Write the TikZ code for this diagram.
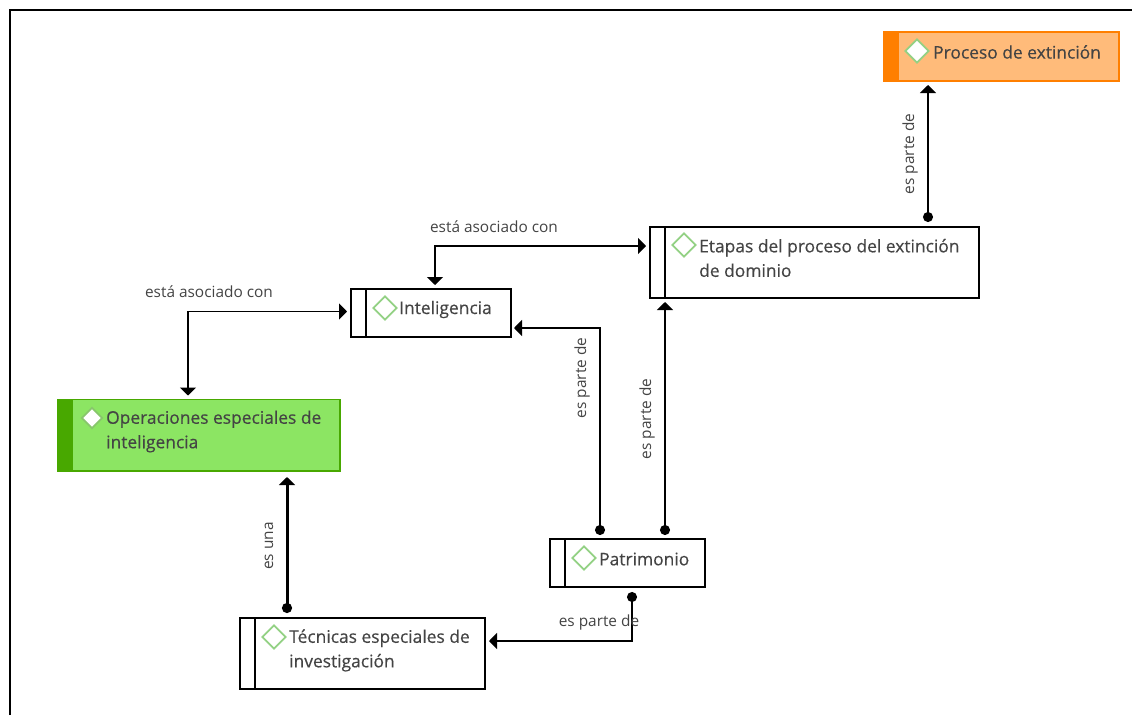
\documentclass[tikz,border=0pt]{standalone}
\usepackage{fontspec}
\setmainfont{Open Sans}
\newfontfamily\titlefont[FakeBold=0.35]{Open Sans}
\usetikzlibrary{arrows.meta,shapes.geometric}

\definecolor{textgray}{HTML}{444444}
\definecolor{markgreen}{HTML}{93D184}
\definecolor{orangeline}{HTML}{FF7F00}
\definecolor{orangefill}{HTML}{FFBB7A}
\definecolor{greenline}{HTML}{48A800}
\definecolor{greenfill}{HTML}{8CE563}

\tikzset{
 box/.style={draw=black,line width=1.5pt,fill=white,inner sep=0pt,outer sep=0pt,anchor=north west},
 gem/.style={diamond,aspect=1,draw=markgreen,line width=1.7pt,fill=white,inner sep=0pt,minimum size=24pt},
 title/.style={anchor=west,inner sep=0pt,text=textgray,font=\titlefont\fontsize{17.4}{24.5}\selectfont,align=left},
 relation/.style={inner sep=0pt,text=textgray,font=\fontsize{15.4}{18}\selectfont},
 link/.style={line width=1.7pt,{Circle[length=10pt]}-{Triangle[length=8pt,width=16pt]}},
 both/.style={line width=1.7pt,{Triangle[length=8pt,width=16pt]}-{Triangle[length=8pt,width=16pt]}}
}

\begin{document}
\begin{tikzpicture}[x=1pt,y=-1pt]

\useasboundingbox (0,0) rectangle (1132,715);

% frame
\draw[line width=2.2pt] (10,715)--(10,10)--(1132,10);

% boxes
\node [box,draw=orangeline,fill=orangefill,minimum width=235.5pt,minimum height=49pt] (proceso) at (883.5,32) {};
\node [box,draw=greenline,fill=greenfill,minimum width=282.5pt,minimum height=71.5pt] (operaciones) at (57.5,399.5) {};
\node [box,minimum width=329pt,minimum height=71pt] (etapas) at (650,227) {};
\node [box,minimum width=160pt,minimum height=48pt] (inteligencia) at (351,289) {};
\node [box,minimum width=155pt,minimum height=48pt] (patrimonio) at (550,539) {};
\node [box,minimum width=245pt,minimum height=71pt] (tecnicas) at (240,618) {};

% side bars
\fill [orangeline] (883,32) rectangle (899,81);
\fill [greenline] (57,399.5) rectangle (73,471);
\draw [line width=1.5pt] (665,227)--(665,298);
\draw [line width=1.5pt] (366,289)--(366,337);
\draw [line width=1.5pt] (565,539)--(565,587);
\draw [line width=1.5pt] (255,618)--(255,689);

% diamonds
\node [gem] (gem1) at (917,51) {};
\node [gem,minimum size=21pt,draw=greenfill!70!gray] (gem2) at (92,418) {};
\node [gem] (gem3) at (684,245) {};
\node [gem] (gem4) at (385,308) {};
\node [gem] (gem5) at (584,558) {};
\node [gem] (gem6) at (274,637) {};

% titles
\node [title] (t1) at (933,52) {Proceso de extinción};
\node [title] (t2) at (106,431.5) {Operaciones especiales de\\inteligencia};
\node [title] (t3) at (699,258) {Etapas del proceso del extinción\\de dominio};
\node [title] (t4) at (399,309.5) {Inteligencia};
\node [title] (t5) at (599,559) {Patrimonio};
\node [title] (t6) at (289,650.5) {Técnicas especiales de\\investigación};

% connectors
\draw [link,shorten <=5pt,shorten >=4pt] ([xshift=113.5pt]etapas.north)--([xshift=-73.25pt]proceso.south);
\draw [both,shorten <=4pt,shorten >=4pt] ([xshift=4pt]inteligencia.north) |- ([yshift=16.5pt]etapas.west);
\draw [both,shorten <=4pt,shorten >=4pt] ([xshift=-10.75pt]operaciones.north) |- ([yshift=1.5pt]inteligencia.west);
\draw [link,shorten <=4pt,shorten >=3pt] ([xshift=-27.5pt]patrimonio.north) |- ([yshift=-15pt]inteligencia.east);
\draw [link,shorten <=4pt,shorten >=4pt] ([xshift=37.5pt]patrimonio.north)--([xshift=-149.5pt]etapas.south);
\draw [link,shorten <=5pt,shorten >=4pt] ([xshift=4.5pt]patrimonio.south) |- ([yshift=12.5pt]tecnicas.east);
\draw [link,line width=3pt,shorten <=5pt,shorten >=6pt] ([xshift=-75.5pt]tecnicas.north)--([xshift=88.25pt]operaciones.south);

% relation names
\node [relation] (r1) at (494,227) {está asociado con};
\node [relation] (r2) at (209,292) {está asociado con};
\node [relation,rotate=90] (r3) at (910,154) {es parte de};
\node [relation,rotate=90] (r4) at (582,378) {es parte de};
\node [relation,rotate=90] (r5) at (647,419) {es parte de};
\node [relation] (r6) at (599,622) {es parte de};
\node [relation,rotate=90] (r7) at (269,546) {es una};

\end{tikzpicture}
\end{document}
